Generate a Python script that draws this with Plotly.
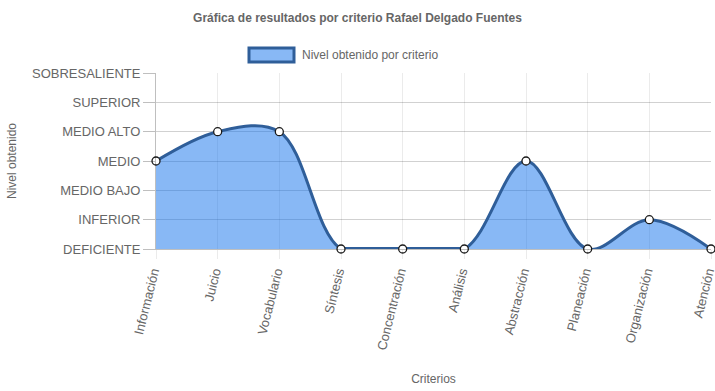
import plotly.graph_objects as go

categories = ["Información", "Juicio", "Vocabulario", "Síntesis", "Concentración",
              "Análisis", "Abstracción", "Planeación", "Organización", "Atención"]
values = [3, 4, 4, 0, 0, 0, 3, 0, 1, 0]
level_vals = [0, 1, 2, 3, 4, 5, 6]
level_labels = ["DEFICIENTE", "INFERIOR", "MEDIO BAJO", "MEDIO", "MEDIO ALTO",
                "SUPERIOR", "SOBRESALIENTE"]

W, H = 715, 391
ML, MR, MT, MB = 156, 4, 73, 142
pw, ph = W - ML - MR, H - MT - MB

fill_col = "rgba(17,113,235,0.5)"
legend_fill = "#88b8f5"
line_col = "#2f5e99"
txt = "#666666"
font = "Liberation Sans, Arial, sans-serif"

fig = go.Figure()
fig.add_trace(go.Scatter(
    x=categories, y=values, mode="lines",
    line=dict(color=line_col, width=3, shape="spline", smoothing=1),
    fill="tozeroy", fillcolor=fill_col, showlegend=False, hoverinfo="skip",
))
# segments where the series sits on the baseline (Chart.js keeps the curve there)
zero_runs = [v if v == 0 else None for v in values]
fig.add_trace(go.Scatter(
    x=categories, y=zero_runs, mode="lines",
    line=dict(color=line_col, width=4), showlegend=False, hoverinfo="skip",
))
fig.add_trace(go.Scatter(
    x=categories, y=values, mode="markers",
    marker=dict(size=8, color="white", line=dict(color="#1a1a1a", width=1.3)),
    cliponaxis=False, showlegend=False,
))

def px_x(p):
    return (p - ML) / pw

def px_y(p):
    return (H - MB - p) / ph

fig.add_shape(type="rect", xref="paper", yref="paper",
              x0=px_x(249), x1=px_x(294), y0=px_y(62), y1=px_y(48),
              fillcolor=legend_fill, line=dict(color=line_col, width=3))
fig.add_annotation(text="Nivel obtenido por criterio", xref="paper", yref="paper",
                   x=px_x(300), y=px_y(55), xanchor="left", yanchor="middle",
                   showarrow=False, font=dict(size=12, color=txt, family=font))

fig.update_layout(
    width=W, height=H,
    margin=dict(l=ML, r=MR, t=MT, b=MB, autoexpand=False),
    paper_bgcolor="white", plot_bgcolor="white",
    font=dict(family=font, color=txt, size=12),
    title=dict(text="<b>Gráfica de resultados por criterio Rafael Delgado Fuentes</b>",
               x=0.5, xref="container", xanchor="center", y=1 - 18 / H, yanchor="middle",
               yref="container",
               font=dict(size=12, color=txt, family=font)),
    xaxis=dict(
        type="category", range=[0, len(categories) - 1], automargin=False,
        showgrid=True, gridcolor="rgba(0,0,0,0.08)", gridwidth=1,
        showline=True, linecolor="rgba(0,0,0,0.25)", linewidth=1,
        ticks="outside", ticklen=9, tickcolor="rgba(0,0,0,0.08)",
        tickangle=-76, tickfont=dict(size=13, color=txt), ticklabelshift=-3,
        title=dict(text="Criterios", font=dict(size=12, color=txt), standoff=23),
        zeroline=False,
    ),
    yaxis=dict(
        range=[0, 6], tickvals=level_vals, ticktext=level_labels, automargin=False,
        showgrid=True, gridcolor="rgba(0,0,0,0.18)", gridwidth=1,
        showline=True, linecolor="rgba(0,0,0,0.25)", linewidth=1,
        ticks="outside", ticklen=12, tickcolor="rgba(0,0,0,0.25)",
        tickfont=dict(size=13, color=txt),
        title=dict(text="Nivel obtenido", font=dict(size=12, color=txt), standoff=12),
        zeroline=False,
    ),
)

fig.write_html("out.html", config={"displayModeBar": False},
               post_script="document.body.style.margin='0';")
